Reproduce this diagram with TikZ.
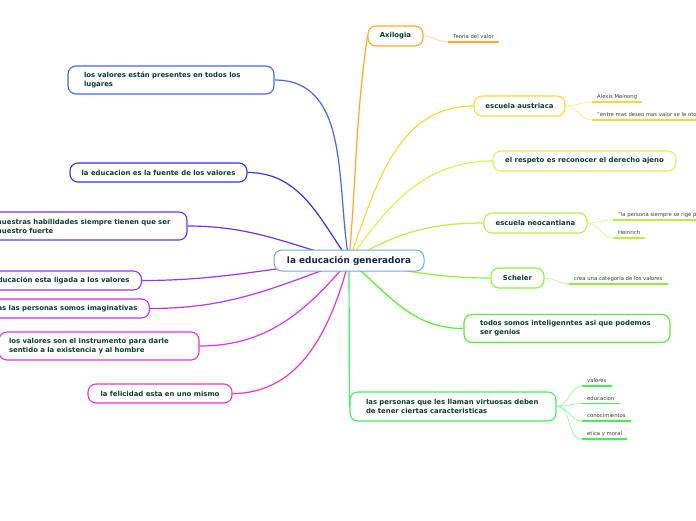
\documentclass[tikz,border=0pt]{standalone}
\usepackage{fontspec}
\setmainfont{DejaVu Sans}
\usetikzlibrary{backgrounds}
\definecolor{cRoot}{HTML}{6FA8DC}
\definecolor{cRootTxt}{HTML}{15264F}
\definecolor{cTxt}{HTML}{0E3D2C}
\definecolor{cSub}{HTML}{3A3A3A}
\definecolor{cAxi}{HTML}{FFA726}
\definecolor{cAus}{HTML}{FFD633}
\definecolor{cRes}{HTML}{E2F04A}
\definecolor{cNeo}{HTML}{B8F03A}
\definecolor{cSch}{HTML}{8CF03A}
\definecolor{cTod}{HTML}{55EE2E}
\definecolor{cVir}{HTML}{44EE55}
\definecolor{cPre}{HTML}{4466F0}
\definecolor{cFue}{HTML}{3333E0}
\definecolor{cHab}{HTML}{6A33F0}
\definecolor{cLig}{HTML}{9933EE}
\definecolor{cIma}{HTML}{BB33EE}
\definecolor{cIns}{HTML}{DD33EE}
\definecolor{cFel}{HTML}{EE33CC}
\tikzset{
  topic/.style ={draw,fill=white,line width=1.1pt,rounded corners=8pt,
                 font=\fontsize{6.9}{9}\selectfont\bfseries,text=cTxt,
                 minimum height=20pt,inner xsep=0pt,inner ysep=0pt},
  two/.style   ={topic,align=left,minimum height=28pt,text width=#1,
                 execute at begin node={\leftskip=16pt}},
  rootbox/.style={topic,draw=cRoot,text=cRootTxt,line width=1pt,
                 font=\fontsize{8.9}{10}\selectfont\bfseries,minimum height=21pt},
  sub/.style   ={font=\fontsize{5.3}{6}\selectfont,text=cSub,anchor=south west,
                 inner xsep=5pt,inner ysep=2pt,text depth=1.2pt},
  link/.style  ={line width=1.2pt},
  twig/.style  ={line width=0.7pt},
  ul/.style    ={line width=1.8pt},
}
\begin{document}
\begin{tikzpicture}[x=1pt,y=1pt]
\useasboundingbox (0,0) rectangle (696,-520);
\clip (0,0) rectangle (696,-520);

\node[rootbox,minimum width=150pt] (edu) at (349,-260.5) {la educación generadora};

% right branches
\node[topic,draw=cAxi,minimum width=55pt]  (axi) at (395.5,-36)  {Axilogia};
\node[topic,draw=cAus,minimum width=91pt]  (aus) at (519.5,-106) {escuela austriaca};
\node[topic,draw=cRes,minimum width=183pt] (res) at (584.5,-161) {el respeto es reconocer el derecho ajeno};
\node[topic,draw=cNeo,minimum width=103pt] (neo) at (535.5,-223) {escuela neocantiana};
\node[topic,draw=cSch,minimum width=53pt]  (sch) at (517.5,-278) {Scheler};
\node[two=206pt,draw=cTod] (tod) at (567,-328.5)
  {todos somos inteligenntes asi que podemos\\ ser genios};
\node[two=206pt,draw=cVir,minimum height=29pt] (vir) at (453,-406.5)
  {las personas que les llaman virtuosas deben\\ de tener ciertas caracteristicas};

% left branches
\node[two=206pt,draw=cPre] (pre) at (171,-80)
  {los valores están presentes en todos los\\ lugares};
\node[topic,draw=cFue,minimum width=177pt,minimum height=19pt] (fue) at (158.5,-172.5)
  {la educacion es la fuente de los valores};
\node[two=206pt,draw=cHab] (hab) at (84,-226)
  {nuestras habilidades siempre tienen que ser\\ nuestro fuerte};
\node[topic,draw=cLig,inner xsep=12pt,minimum height=19pt,anchor=east] (lig) at (142,-280.5)
  {la educación esta ligada a los valores};
\node[topic,draw=cIma,inner xsep=12pt,minimum height=19pt,anchor=east] (ima) at (150,-308.5)
  {todas las personas somos imaginativas};
\node[two=200pt,draw=cIns,execute at begin node={\leftskip=10pt}] (ins) at (99,-346)
  {los valores son el instrumento para darle\\ sentido a la existencia y al hombre};
\node[topic,draw=cFel,minimum width=144pt,minimum height=19pt] (fel) at (160,-393.5)
  {la felicidad esta en uno mismo};

% sub topics
\node[sub] (t1) at (448,-42)  {Teoria del valor};
\node[sub] (a1) at (592,-102) {Alexis Meinong};
\node[sub] (a2) at (592,-120) {"entre mas deseo mas valor se le otorga"};
\node[sub] (n1) at (613,-220) {"la persona siempre se rige por valores"};
\node[sub] (n2) at (613,-238) {Heinrich};
\node[sub] (s1) at (569,-284) {crea una categoria de los valores};
\node[sub] (v1) at (582,-386) {valores};
\node[sub] (v2) at (582,-403.5) {educacion};
\node[sub] (v3) at (582,-421) {conocimientos};
\node[sub] (v4) at (582,-439) {etica y moral};

\foreach \p/\s/\c in {axi/t1/cAxi,aus/a1/cAus,aus/a2/cAus,neo/n1/cNeo,neo/n2/cNeo,
                      sch/s1/cSch,vir/v1/cVir,vir/v2/cVir,vir/v3/cVir,vir/v4/cVir}{
  \draw[twig,\c!55] (\p.east) to[out=0,in=180] (\s.south west);
  \draw[ul,\c] (\s.south west) -- (\s.south east);
}

\begin{scope}[on background layer]
\draw[link,cAxi] (edu.center) to[out=85,in=262] (axi.west);
\foreach \n/\c/\o in {aus/cAus/70,res/cRes/55,neo/cNeo/30,sch/cSch/-10,tod/cTod/-40}
  \draw[link,\c] (edu.center) to[out=\o,in=180] (\n.west);
\draw[link,cVir] (edu.center) -- (vir.west);
\foreach \n/\c/\o in {pre/cPre/100,fue/cFue/125,hab/cHab/165,lig/cLig/185,
                      ima/cIma/200,ins/cIns/230,fel/cFel/255}
  \draw[link,\c] (edu.center) to[out=\o,in=0] (\n.east);
\end{scope}
\end{tikzpicture}
\end{document}
